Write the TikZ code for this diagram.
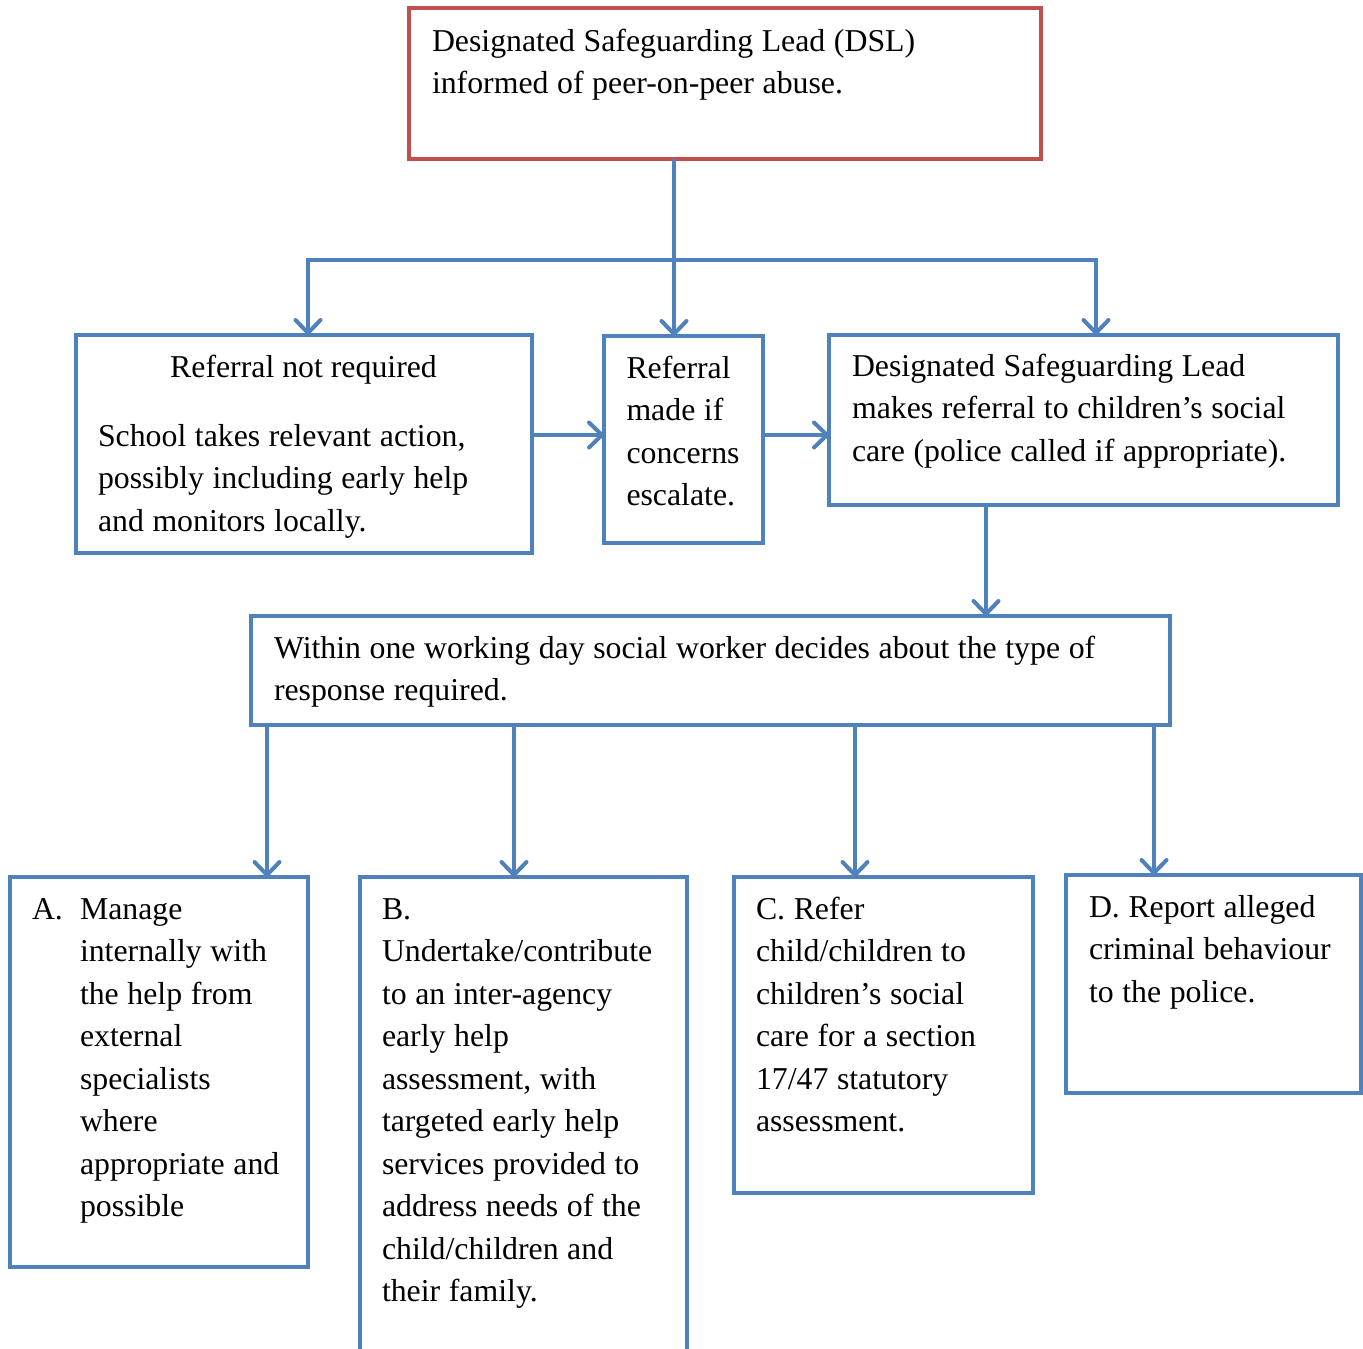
\documentclass[tikz,border=0pt]{standalone}
\usepackage{fontspec}
\setmainfont{Liberation Serif}
\usetikzlibrary{arrows.meta}
\definecolor{boxblue}{HTML}{4F81BD}
\definecolor{boxred}{HTML}{C0504D}
\newcommand{\boxfont}{\fontsize{31.8}{42.5}\selectfont}
\tikzset{
  frame/.style={draw=boxblue, line width=4pt, rectangle, inner sep=0pt, outer sep=0pt, anchor=north west},
  redframe/.style={frame, draw=boxred},
  txt/.style={anchor=base west, inner sep=0pt, outer sep=0pt, text width=900pt, align=left, font=\boxfont,
    execute at begin node={\spaceskip=8.6pt\relax\xspaceskip=8.6pt\relax}},
  ctxt/.style={anchor=base, inner sep=0pt, outer sep=0pt, font=\boxfont},
  arr/.style={draw=boxblue, line width=4pt, -{Straight Barb[length=13pt,width=25pt,line width=4pt,round]}},
  plain/.style={draw=boxblue, line width=4pt, line cap=rect}
}
\begin{document}
\begin{tikzpicture}[x=1pt,y=-1pt]
\useasboundingbox (0,0) rectangle (1363,1349);
\fill[white] (0,0) rectangle (1363,1349);

% boxes
\node[redframe, minimum width=632pt, minimum height=151pt] (dsl) at (409,8) {};
\node[frame, minimum width=456pt, minimum height=218pt] (nr) at (76,335) {};
\node[frame, minimum width=159pt, minimum height=207pt] (rm) at (604,336) {};
\node[frame, minimum width=509pt, minimum height=170pt] (ref) at (829,335) {};
\node[frame, minimum width=919pt, minimum height=109pt] (sw) at (251,616) {};
\node[frame, minimum width=298pt, minimum height=390pt] (ba) at (10,877) {};
\node[frame, minimum width=327pt, minimum height=480pt] (bb) at (360,877) {};
\node[frame, minimum width=299pt, minimum height=316pt] (bc) at (734,877) {};
\node[frame, minimum width=295pt, minimum height=218pt] (bd) at (1066,875) {};

% texts
\node[txt] (tdsl) at (432,51) {Designated Safeguarding Lead (DSL)\\informed of peer-on-peer abuse.};
\node[ctxt] (tnr1) at (303.5,377) {Referral not required};
\node[txt] (tnr2) at (98,446) {School takes relevant action,\\possibly including early help\\and monitors locally.};
\node[txt] (trm) at (626.5,378) {Referral\\made if\\concerns\\escalate.};
\node[txt] (tref) at (852,376) {Designated Safeguarding Lead\\makes referral to children’s social\\care (police called if appropriate).};
\node[txt] (tsw) at (274,658) {Within one working day social worker decides about the type of\\response required.};
\node[txt] (tba1) at (32,919) {A.};
\node[txt] (tba2) at (80,919) {Manage\\internally with\\the help from\\external\\specialists\\where\\appropriate and\\possible};
\node[txt] (tbb) at (382,919) {B.\\Undertake/contribute\\to an inter-agency\\early help\\assessment, with\\targeted early help\\services provided to\\address needs of the\\child/children and\\their family.};
\node[txt] (tbc) at (756,919) {C. Refer\\child/children to\\children’s social\\care for a section\\17/47 statutory\\assessment.};
\node[txt] (tbd) at (1089,917) {D. Report alleged\\criminal behaviour\\to the police.};

% connectors
\coordinate (bl) at (308,260);
\coordinate (br) at (1096,260);
\draw[arr] ([xshift=265pt]dsl.south west) -- ([xshift=70pt]rm.north west);
\draw[plain] (bl) -- (br);
\draw[arr] (bl) -- (bl |- nr.north);
\draw[arr] (br) -- (br |- ref.north);
\draw[arr] ([yshift=-100pt]nr.north east) -- ([yshift=-99pt]rm.north west);
\draw[arr] ([yshift=-99pt]rm.north east) -- ([yshift=-100pt]ref.north west);
\draw[arr] ([xshift=157pt]ref.south west) -- ([xshift=735pt]sw.north west);
\draw[arr] ([xshift=16pt]sw.south west) -- ([xshift=257pt]ba.north west);
\draw[arr] ([xshift=263pt]sw.south west) -- ([xshift=154pt]bb.north west);
\draw[arr] ([xshift=604pt]sw.south west) -- ([xshift=121pt]bc.north west);
\draw[arr] ([xshift=903pt]sw.south west) -- ([xshift=88pt]bd.north west);
\end{tikzpicture}
\end{document}
